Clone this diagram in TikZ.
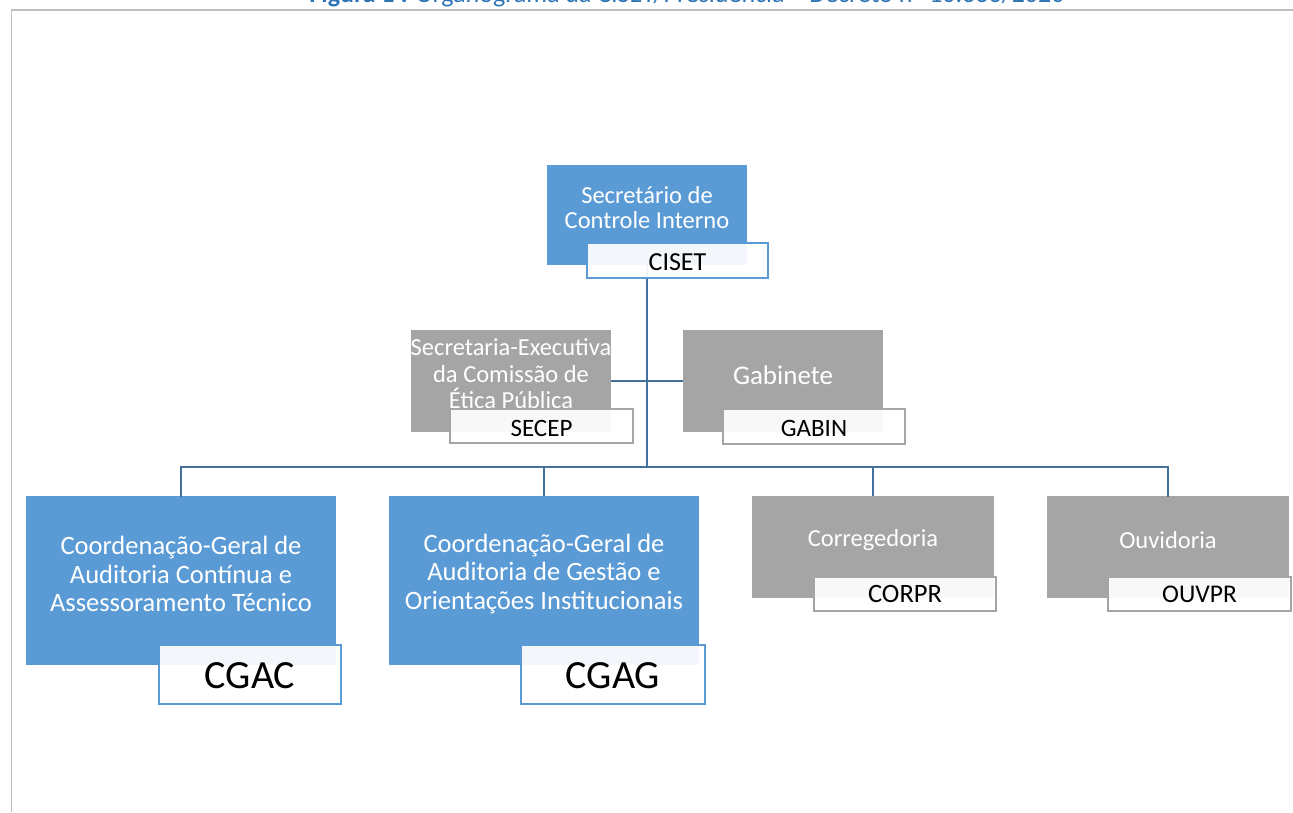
\documentclass[tikz,border=0pt]{standalone}
\usepackage{fontspec}
\setmainfont{Carlito}
\definecolor{boxblue}{HTML}{5B9BD5}
\definecolor{boxgray}{HTML}{A5A5A5}
\definecolor{linkblue}{HTML}{41719C}
\definecolor{titleblue}{HTML}{2E74B5}
\definecolor{framegray}{HTML}{BFBFBF}
\tikzset{
  unitbox/.style={rectangle, inner sep=0pt, draw=none},
  bluebox/.style={unitbox, fill=boxblue},
  graybox/.style={unitbox, fill=boxgray},
  tagbox/.style={rectangle, inner sep=0pt, fill=white, fill opacity=0.93, line width=1.8pt},
  bluetag/.style={tagbox, draw=boxblue},
  graytag/.style={tagbox, draw=boxgray},
  whitetxt/.style={text=white, align=center, inner sep=0pt, font=\fontsize{24.5}{26}\selectfont},
  tagtxt/.style={text=black, inner sep=0pt, font=\fontsize{26}{28}\selectfont},
  bigtag/.style={text=black, inner sep=0pt, font=\fontsize{40}{44}\selectfont},
  link/.style={draw=linkblue, line width=2.2pt}
}
\begin{document}
\begin{tikzpicture}[x=1pt,y=-1pt]
\useasboundingbox (0,0) rectangle (1293,812);
% frame
\draw[framegray, line width=1.5pt] (11,10) -- (1293,10);
\draw[framegray, line width=0.8pt] (11,10) -- (11,812);
% title (cropped by page edge)
\node[anchor=base, inner sep=0pt, text=titleblue, font=\fontsize{26}{28}\selectfont] (title) at (687,2.5)
  {\textbf{Figura 1 :} Organograma da CISET/Presidência – Decreto nº 10.336/2020};

% boxes (geometry only)
\node[bluebox, minimum width=200pt, minimum height=100pt] (ciset) at (647,215) {};
\node[graybox, minimum width=200pt, minimum height=102pt] (secep) at (511,381) {};
\node[graybox, minimum width=200pt, minimum height=102pt] (gabin) at (783,381) {};
\node[bluebox, minimum width=310pt, minimum height=169pt] (cgac) at (181,580.5) {};
\node[bluebox, minimum width=310pt, minimum height=169pt] (cgag) at (544,580.5) {};
\node[graybox, minimum width=242pt, minimum height=102pt] (corpr) at (873,547) {};
\node[graybox, minimum width=242pt, minimum height=102pt] (ouvpr) at (1168,547) {};

% connectors
\coordinate (bus) at (647,467);
\draw[link] (ciset.south) -- (bus);
\draw[link] (secep.east) -- (gabin.west);
\draw[link, line cap=rect] (bus) -| (cgac.north);
\draw[link] (bus) -| (cgag.north);
\draw[link] (bus) -| (corpr.north);
\draw[link, line cap=rect] (bus) -| (ouvpr.north);

% box texts
\node[whitetxt, font=\fontsize{24.5}{25.5}\selectfont] (cisettxt) at (647,207.5) {Secretário de\\Controle Interno};
\node[whitetxt, font=\fontsize{24.5}{26.5}\selectfont] (seceptxt) at (511,374) {Secretaria-Executiva\\da Comissão de\\Ética Pública};
\node[whitetxt, font=\fontsize{27}{28}\selectfont] (gabintxt) at (783,375) {Gabinete};
\node[whitetxt, font=\fontsize{26.5}{28.7}\selectfont] (cgactxt) at (181,574) {Coordenação-Geral de\\Auditoria Contínua e\\Assessoramento Técnico};
\node[whitetxt, font=\fontsize{26.5}{28.7}\selectfont] (cgagtxt) at (544,574) {Coordenação-Geral de\\Auditoria de Gestão e\\Orientações Institucionais};
\node[whitetxt] (corprtxt) at (873,540.5) {Corregedoria};
\node[whitetxt] (ouvprtxt) at (1168,540.5) {Ouvidoria};

% tags
\node[bluetag, minimum width=181pt, minimum height=35pt] (cisettag) at (677.5,260.5) {};
\node[graytag, minimum width=183pt, minimum height=34pt] (seceptag) at (541.5,426) {};
\node[graytag, minimum width=182pt, minimum height=35pt] (gabintag) at (814,426.5) {};
\node[bluetag, minimum width=182pt, minimum height=59pt] (cgactag) at (250,674.5) {};
\node[bluetag, minimum width=184pt, minimum height=59pt] (cgagtag) at (613,674.5) {};
\node[graytag, minimum width=182pt, minimum height=34pt] (corprtag) at (905,594) {};
\node[graytag, minimum width=183pt, minimum height=34pt] (ouvprtag) at (1199.5,594) {};

\node[tagtxt] at ([yshift=-1.5pt]cisettag) {CISET};
\node[tagtxt, font=\fontsize{25}{27}\selectfont] at ([yshift=-2pt]seceptag) {SECEP};
\node[tagtxt, font=\fontsize{25}{27}\selectfont] at ([yshift=-2pt]gabintag) {GABIN};
\node[bigtag] at ([yshift=-1pt]cgactag) {CGAC};
\node[bigtag] at ([yshift=-1pt]cgagtag) {CGAG};
\node[tagtxt, font=\fontsize{26.5}{28}\selectfont] at ([yshift=0pt]corprtag) {CORPR};
\node[tagtxt, font=\fontsize{25.5}{27}\selectfont] at ([yshift=0pt]ouvprtag) {OUVPR};
\end{tikzpicture}
\end{document}
